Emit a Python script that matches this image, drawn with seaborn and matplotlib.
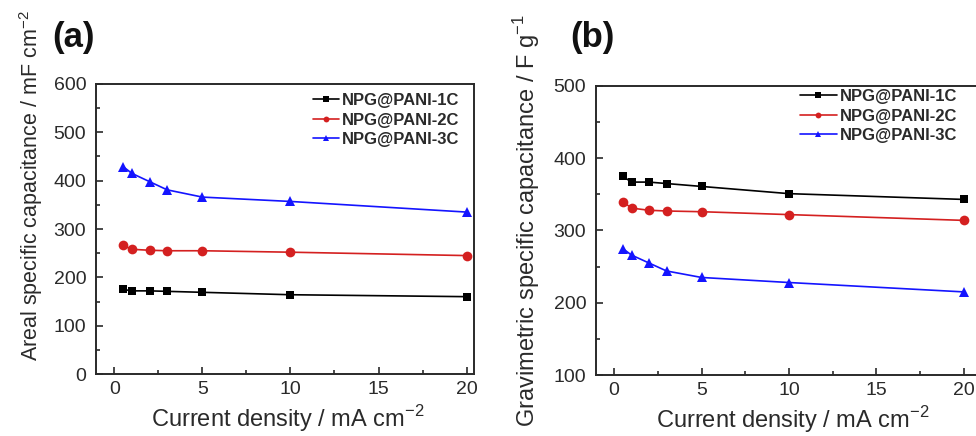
import numpy as np
import pandas as pd
import seaborn as sns
import matplotlib
matplotlib.use("Agg")
import matplotlib.pyplot as plt
from matplotlib.ticker import MultipleLocator

current_density = [0.5, 1, 2, 3, 5, 10, 20]
series_names = ["NPG@PANI-1C", "NPG@PANI-2C", "NPG@PANI-3C"]

areal_1c = [175, 172, 172, 171, 169, 164, 160]
areal_2c = [266, 258, 256, 255, 255, 252, 245]
areal_3c = [429, 415, 398, 381, 366, 357, 335]

grav_1c = [375, 367, 367, 365, 361, 351, 343]
grav_2c = [340, 331, 328, 327, 326, 322, 314]
grav_3c = [275, 266, 255, 244, 235, 228, 215]

colors = ["#000000", "#d42020", "#1414ff"]
markers = ["s", "o", "^"]
marker_sizes = [6, 7, 7.5]

sns.set_theme(style="ticks")
plt.rcParams['font.family'] = ['Liberation Sans', 'DejaVu Sans']
plt.rcParams['mathtext.fontset'] = 'custom'
plt.rcParams['mathtext.rm'] = 'Liberation Sans'

TXT = '#2a2a2a'


def long_df(vals):
    rows = []
    for name, v in zip(series_names, vals):
        for x, y in zip(current_density, v):
            rows.append({"x": x, "y": y, "series": name})
    return pd.DataFrame(rows)


df_a = long_df([areal_1c, areal_2c, areal_3c])
df_b = long_df([grav_1c, grav_2c, grav_3c])

W, H = 976, 436
fig = plt.figure(figsize=(W / 100, H / 100), dpi=100)


def ax_at(l, t, r, b):
    return fig.add_axes([l / W, 1 - b / H, (r - l) / W, (b - t) / H])


ax1 = ax_at(96, 84, 474, 374)
ax2 = ax_at(596, 86, 1000, 375)

palette = dict(zip(series_names, colors))
mk = dict(zip(series_names, markers))

for ax, df in [(ax1, df_a), (ax2, df_b)]:
    sns.lineplot(data=df, x="x", y="y", hue="series", style="series",
                 palette=palette, markers=mk, dashes=False, ax=ax,
                 linewidth=1.2, markersize=7, markeredgewidth=0)
    for ln, ms in zip(ax.lines[:3], marker_sizes):
        ln.set_markersize(ms)
    ax.xaxis.set_major_locator(MultipleLocator(5))
    ax.xaxis.set_minor_locator(MultipleLocator(2.5))
    ax.yaxis.set_major_locator(MultipleLocator(100))
    ax.yaxis.set_minor_locator(MultipleLocator(50))
    ax.tick_params(which='both', direction='in', top=False, right=False,
                   labelsize=14, colors=TXT, width=1.2)
    ax.tick_params(which='major', length=5, pad=7)
    ax.tick_params(axis='x', which='major', pad=5)
    ax.tick_params(which='minor', length=3)
    for s in ax.spines.values():
        s.set_linewidth(1.4)
        s.set_color(TXT)
    ax.set_xlabel("Current density / mA cm$^{-2}$", fontsize=17, color=TXT)
    ax.set_ylabel("")

ax1.set_xlim(-1.04, 20.42)
ax1.set_ylim(0, 600)
ax2.set_xlim(-1.03, 22.06)
ax2.set_ylim(100, 500)

# legends
for ax, x0, y0, hl in [(ax1, 313, 93, 1.55), (ax2, 800, 89, 2.2)]:
    ax.get_legend().remove()
    leg = ax.legend(loc='upper left', bbox_to_anchor=(x0 / W, 1 - y0 / H),
                    bbox_transform=fig.transFigure, frameon=False,
                    fontsize=12, handlelength=hl, handletextpad=0.2,
                    labelspacing=0.28, borderpad=0, borderaxespad=0,
                    markerscale=0.6)
    for t in leg.get_texts():
        t.set_fontweight('bold')
        t.set_color(TXT)

ax1.xaxis.set_label_coords((288 - 96) / (474 - 96), -0.1)
ax2.xaxis.set_label_coords((793 - 596) / (1000 - 596), -0.1)

fig.text(31 / W, 1 - 10 / H, "Areal specific capacitance / mF cm$^{-2}$",
         rotation=90, ha='center', va='top', fontsize=15.5, color=TXT)
fig.text(527 / W, 1 - 14 / H, "Gravimetric specific capacitance / F g$^{-1}$",
         rotation=90, ha='center', va='top', fontsize=17, color=TXT)

fig.text(52 / W, 1 - 38 / H, "(a)", fontsize=25, fontweight='bold',
         va='center', ha='left', color='#111111')
fig.text(570 / W, 1 - 38 / H, "(b)", fontsize=25, fontweight='bold',
         va='center', ha='left', color='#111111')

fig.savefig("out.png", dpi=100)
